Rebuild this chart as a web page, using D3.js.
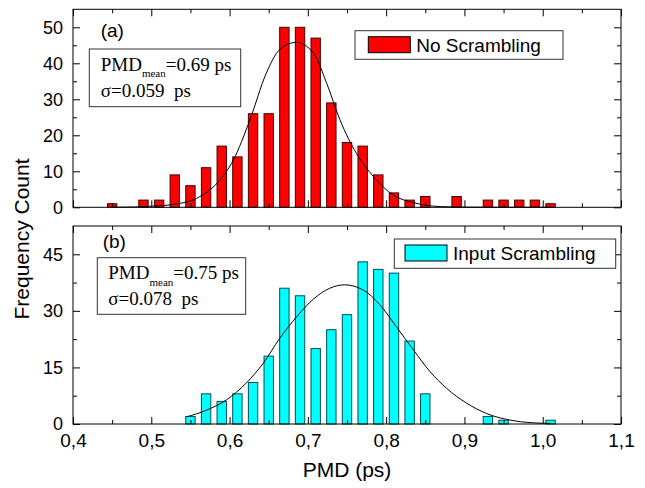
<!DOCTYPE html>
<meta charset="utf-8">
<script src="https://cdnjs.cloudflare.com/ajax/libs/d3/7.8.5/d3.min.js"></script>
<style>
body { margin: 0; background: #fff; }
#pmd-chart text { font-family: "Liberation Sans", Arial, sans-serif; fill: #000; }
#pmd-chart .serif { font-family: "Liberation Serif", "Times New Roman", serif; }
</style>
<div id="pmd-chart"></div>
<script>
// histogram bin centres (ps) and counts
var topPMD   = [0.45,0.49,0.51,0.53,0.55,0.57,0.59,0.61,0.63,0.65,0.67,0.69,0.71,0.73,0.75,0.77,0.79,0.81,0.83,0.85,0.89,0.93,0.95,0.97,0.99,1.01];
var topCount = [1,2,2,9,6,11,17,14,26,26,50,50,47,29,18,17,9,4,2,3,3,2,2,2,2,1];

var botPMD   = [0.55,0.57,0.59,0.61,0.63,0.65,0.67,0.69,0.71,0.73,0.75,0.77,0.79,0.81,0.83,0.85,0.93,0.95,1.01];
var botCount = [2,8,6,8,11,18,36,34,20,25,29,43,41,40,22,8,2,1,1];

// gaussian fit curves
var topFitX = [0.45,0.48,0.50,0.528,0.558,0.584,0.605,0.626,0.647,0.664,0.685,0.707,0.724,0.741,0.762,0.784,0.809,0.835,0.869,0.90,0.95,1.01];
var topFitY = [0.0,0.1,0.3,0.8,2.5,6.7,13.2,24.3,37.3,43.8,45.8,42.9,34.5,24.3,15.0,8.5,3.4,1.3,0.2,0.05,0,0];

var botFitX = [0.545,0.571,0.596,0.622,0.643,0.664,0.686,0.707,0.728,0.747,0.771,0.792,0.813,0.835,0.856,0.877,0.903,0.928,0.962,1.0,1.01];
var botFitY = [1.9,3.7,6.4,11.0,16.1,22.7,28.5,33.1,36.0,36.9,35.5,31.6,25.8,19.6,13.9,9.5,5.5,2.8,0.9,0.2,0.15];

// ticks
var xTicks = [0.4,0.5,0.6,0.7,0.8,0.9,1.0,1.1];
var xTickLabels = ["0,4","0,5","0,6","0,7","0,8","0,9","1,0","1,1"];
var xMinor = [0.45,0.55,0.65,0.75,0.85,0.95,1.05];
var yTicksTop = [0,10,20,30,40,50];
var yMinorTop = [5,15,25,35,45];
var yTicksBot = [0,15,30,45];
var yMinorBot = [7.5,22.5,37.5];

var W = 645, H = 488;
var svg = d3.select("#pmd-chart").append("svg")
    .attr("width", W).attr("height", H);

var x = d3.scaleLinear().domain([0.4, 1.1]).range([73, 621]);
var yTop = d3.scaleLinear().domain([0, 55]).range([207.3, 9.3]);
var yBot = d3.scaleLinear().domain([0, 52.5]).range([424, 226]);

var barW = x(0.412) - x(0.4);

function drawPanel(y, pmd, counts, fitX, fitY, fill, edge, yTicks, yMinor, showXLabels) {
    var g = svg.append("g");

    g.selectAll("rect.bar")
        .data(pmd)
        .enter().append("rect")
        .attr("class", "bar")
        .attr("x", function(d) { return x(d) - barW / 2; })
        .attr("y", function(d, i) { return y(counts[i]); })
        .attr("width", barW)
        .attr("height", function(d, i) { return y(0) - y(counts[i]); })
        .attr("fill", fill)
        .attr("stroke", edge)
        .attr("stroke-width", 1);

    var line = d3.line()
        .x(function(d) { return x(d); })
        .y(function(d, i) { return y(fitY[i]); })
        .curve(d3.curveMonotoneX);
    g.append("path")
        .attr("d", line(fitX))
        .attr("fill", "none")
        .attr("stroke", "#000")
        .attr("stroke-width", 1);

    var y0 = y.range()[0], y1 = y.range()[1];
    var fmt = function(d, i) { return showXLabels ? xTickLabels[i] : ""; };

    // ticks all point inward
    var axes = [
        [d3.axisBottom(x).tickValues(xTicks).tickSize(-7).tickPadding(10).tickFormat(fmt), "translate(0," + y0 + ")", 19],
        [d3.axisBottom(x).tickValues(xMinor).tickSize(-4).tickFormat(""), "translate(0," + y0 + ")", 18],
        [d3.axisTop(x).tickValues(xTicks).tickSize(-7).tickFormat(""), "translate(0," + y1 + ")", 18],
        [d3.axisTop(x).tickValues(xMinor).tickSize(-4).tickFormat(""), "translate(0," + y1 + ")", 18],
        [d3.axisLeft(y).tickValues(yTicks).tickSize(-7).tickPadding(10), "translate(73,0)", 18],
        [d3.axisLeft(y).tickValues(yMinor).tickSize(-4).tickFormat(""), "translate(73,0)", 18],
        [d3.axisRight(y).tickValues(yTicks).tickSize(-7).tickFormat(""), "translate(621,0)", 18],
        [d3.axisRight(y).tickValues(yMinor).tickSize(-4).tickFormat(""), "translate(621,0)", 18]
    ];
    axes.forEach(function(a) {
        var ag = g.append("g").attr("transform", a[1]).call(a[0]);
        ag.select(".domain").remove();
        ag.attr("font-size", a[2]).attr("font-family", null);
        ag.selectAll("line").attr("stroke", "#000");
    });

    g.append("rect")
        .attr("x", 73).attr("y", y1)
        .attr("width", 621 - 73).attr("height", y0 - y1)
        .attr("fill", "none").attr("stroke", "#000").attr("stroke-width", 1);
}

drawPanel(yTop, topPMD, topCount, topFitX, topFitY, "#ff0000", "#4a0000", yTicksTop, yMinorTop, false);
drawPanel(yBot, botPMD, botCount, botFitX, botFitY, "#00ffff", "#005050", yTicksBot, yMinorBot, true);

// legends
function legend(bx, by, bw, bh, sx, sy, label, fill, edge) {
    svg.append("rect").attr("x", bx).attr("y", by).attr("width", bw).attr("height", bh)
        .attr("fill", "#fff").attr("stroke", "#333");
    svg.append("rect").attr("x", sx).attr("y", sy).attr("width", 42).attr("height", 16)
        .attr("fill", fill).attr("stroke", edge);
    svg.append("text").attr("x", sx + 48).attr("y", sy + 15)
        .attr("font-size", 19).text(label);
}
legend(355, 30.7, 208, 28.6, 368.3, 36.7, "No Scrambling", "#ff0000", "#000");
legend(394.3, 239, 221.4, 29.3, 405, 245, "Input Scrambling", "#00ffff", "#000");

// annotation boxes
function note(tag, tx, ty, bx, by, bw, bh, px, py, meanTxt, sigTxt) {
    svg.append("text").attr("x", tx).attr("y", ty).attr("font-size", 19).text(tag);
    svg.append("rect").attr("x", bx).attr("y", by).attr("width", bw).attr("height", bh)
        .attr("fill", "#fff").attr("stroke", "#333");
    var t = svg.append("text").attr("class", "serif").attr("x", px).attr("y", py).attr("font-size", 19);
    t.append("tspan").text("PMD");
    t.append("tspan").attr("font-size", 11).attr("dy", 6.3).text("mean");
    t.append("tspan").attr("dy", -6.3).text(meanTxt);
    svg.append("text").attr("class", "serif").attr("x", px).attr("y", py + 25.7)
        .attr("font-size", 19).style("white-space", "pre").text(sigTxt);
}
note("(a)", 100.7, 36.7, 89.3, 49, 151.4, 57.7, 100.7, 71, "=0.69 ps", "\u03c3=0.059  ps");
note("(b)", 102.7, 248.3, 97.3, 257.7, 148.4, 56.6, 108.3, 279.3, "=0.75 ps", "\u03c3=0.078  ps");

// axis titles
svg.append("text").attr("x", 347).attr("y", 477)
    .attr("text-anchor", "middle").attr("font-size", 21).text("PMD (ps)");
svg.append("text").attr("transform", "translate(29,239) rotate(-90)")
    .attr("text-anchor", "middle").attr("font-size", 21).text("Frequency Count");
</script>
